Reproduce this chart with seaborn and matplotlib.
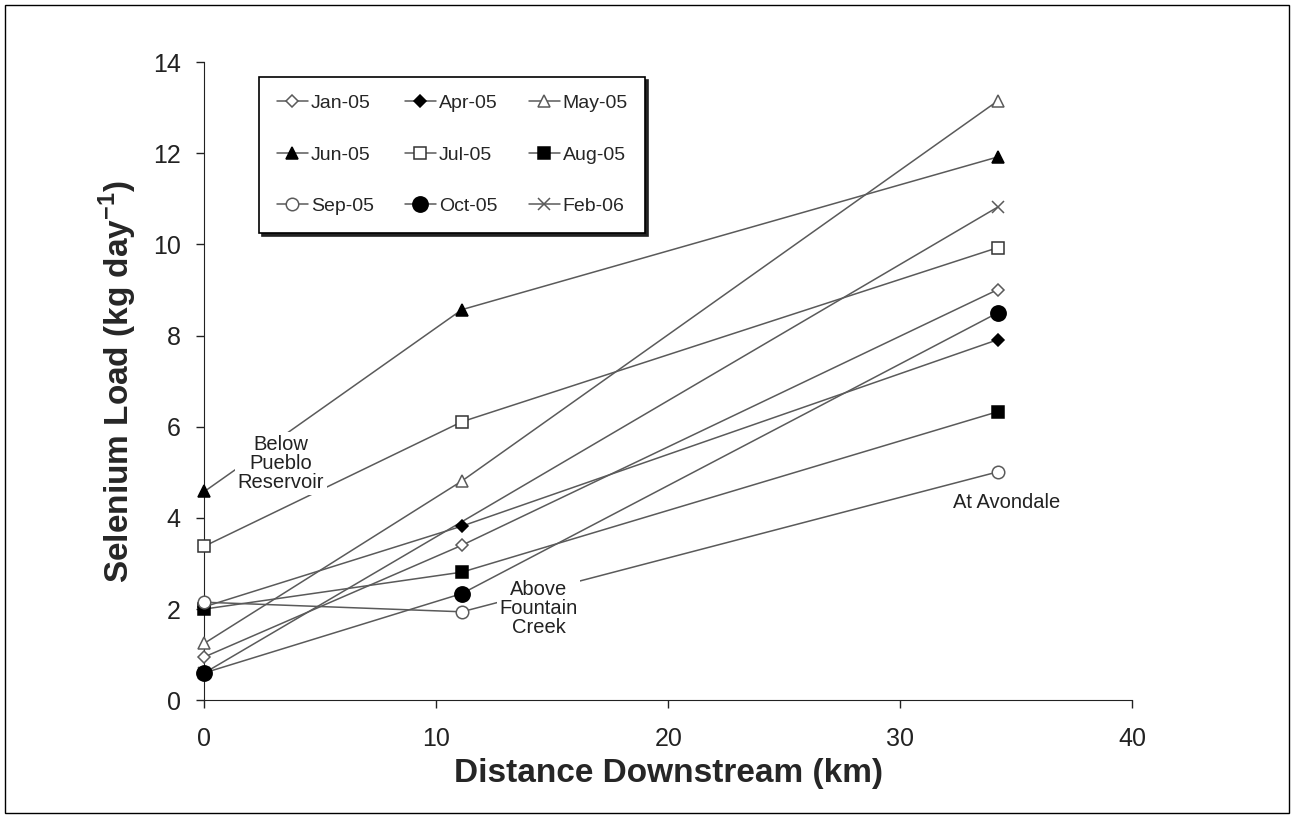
import matplotlib
matplotlib.use("Agg")
import matplotlib.pyplot as plt
import seaborn as sns
from matplotlib.patches import Rectangle

# distance downstream (km) of the three sites
dist = [0, 11.1, 34.2]
# Feb-06 has no value at the middle site
dist_feb = [0, 34.2]

# selenium load (kg/day) per sampling month
jan05 = [0.95, 3.40, 9.01]
apr05 = [2.05, 3.82, 7.91]
may05 = [1.25, 4.81, 13.15]
jun05 = [4.58, 8.57, 11.92]
jul05 = [3.38, 6.11, 9.93]
aug05 = [2.00, 2.81, 6.33]
sep05 = [2.15, 1.94, 5.01]
oct05 = [0.60, 2.34, 8.50]
feb06 = [0.60, 10.82]

names = ['Jan-05', 'Apr-05', 'May-05', 'Jun-05', 'Jul-05', 'Aug-05',
         'Sep-05', 'Oct-05', 'Feb-06']
values = [jan05, apr05, may05, jun05, jul05, aug05, sep05, oct05, feb06]
xs = [dist] * 8 + [dist_feb]

sns.set_style("ticks")
plt.rcParams['font.family'] = ['Liberation Sans', 'DejaVu Sans']
plt.rcParams['mathtext.fontset'] = 'custom'
plt.rcParams['mathtext.rm'] = 'Liberation Sans'
plt.rcParams['mathtext.bf'] = 'Liberation Sans:bold'

grey = '#5a5a5a'
# marker, size, face colour, edge colour, zorder
styles = {
    'Jan-05': ('D', 6, 'white', grey, 4),
    'Apr-05': ('D', 6, 'black', 'black', 4),
    'May-05': ('^', 9, 'white', grey, 4),
    'Jun-05': ('^', 9, 'black', 'black', 4),
    'Jul-05': ('s', 8, 'white', '#333333', 4),
    'Aug-05': ('s', 8, 'black', 'black', 4),
    'Sep-05': ('o', 9, 'white', grey, 4),
    'Oct-05': ('o', 11, 'black', 'black', 4.5),
    'Feb-06': ('x', 9, grey, grey, 3.5),
}

fig = plt.figure(figsize=(12.94, 8.18), dpi=100)
ax = fig.add_axes([0.158, 0.144, 0.717, 0.78])

handles = {}
for name, x, vals in zip(names, xs, values):
    m, ms, fc, ec, z = styles[name]
    sns.lineplot(x=x, y=vals, ax=ax, color=grey, linewidth=1.1,
                 marker=m, markersize=ms, markerfacecolor=fc,
                 markeredgecolor=ec, markeredgewidth=1.1, label=name,
                 legend=False, zorder=z, clip_on=False)
    handles[name] = ax.lines[-1]

# site labels, white box hides the lines behind
box = dict(facecolor='white', edgecolor='none', pad=2)
tx = dict(ha='center', va='center', fontsize=14.5, color='#222222',
          bbox=box, zorder=5, linespacing=1.0)
ax.text(3.3, 5.2, 'Below\nPueblo\nReservoir', **tx)
ax.text(14.4, 2.02, 'Above\nFountain\nCreek', **tx)
ax.text(34.6, 4.33, 'At Avondale', **tx)

ax.set_xlim(0, 40)
ax.set_ylim(0, 14)
ax.set_xticks([0, 10, 20, 30, 40])
ax.set_yticks(range(0, 15, 2))
ax.tick_params(labelsize=18, length=6, width=1, colors='#222222')
ax.tick_params(axis='y', pad=11)
ax.tick_params(axis='x', pad=13)
ax.set_xlabel('Distance Downstream (km)', fontsize=24, fontweight='bold',
              labelpad=5)
ax.set_ylabel(r'Selenium Load (kg day$^{\mathbf{-1}}$)', fontsize=24,
              fontweight='bold', labelpad=10)
sns.despine(ax=ax)
for s in ['left', 'bottom']:
    ax.spines[s].set_color('#222222')

# legend fills column by column, so reorder to read row by row
order = ['Jan-05', 'Jun-05', 'Sep-05', 'Apr-05', 'Jul-05', 'Oct-05',
         'May-05', 'Aug-05', 'Feb-06']
leg = ax.legend([handles[n] for n in order], order, ncol=3, loc='upper left',
                bbox_to_anchor=(0.059, 0.977), fontsize=14, frameon=True,
                fancybox=False, shadow={'color': '#222222', 'alpha': 1},
                edgecolor='black', framealpha=1, borderpad=0.9,
                labelspacing=1.75, handlelength=1.6, handletextpad=0.15,
                columnspacing=1.6, borderaxespad=0)
leg.get_frame().set_linewidth(1.2)
leg.set_zorder(6)

fig.patches.append(Rectangle((0.004, 0.006), 0.992, 0.988, transform=fig.transFigure,
                             fill=False, edgecolor='black', linewidth=1))

fig.savefig('out.png', dpi=100)
